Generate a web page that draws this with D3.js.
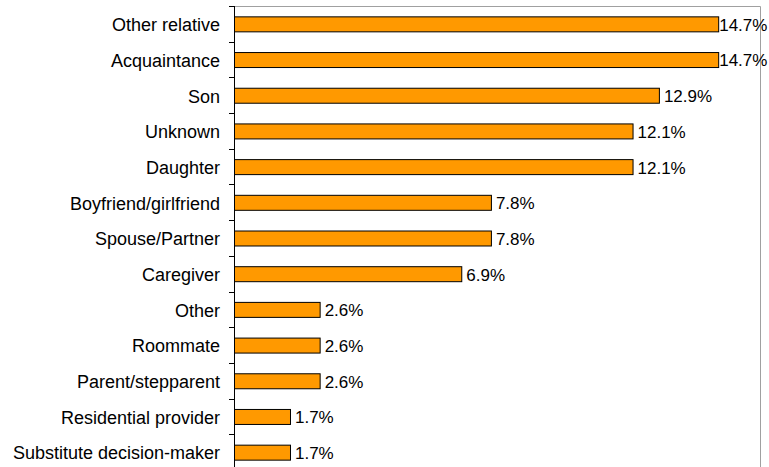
<!DOCTYPE html>
<html>
<head>
<meta charset="utf-8">
<script src="https://cdn.jsdelivr.net/npm/d3@7"></script>
<style>
  body { margin: 0; background: #fff; }
  text { font-family: "Liberation Sans", Arial, sans-serif; fill: #000; }
</style>
</head>
<body>
<div id="chart"></div>
<script>
var categories = ["Other relative", "Acquaintance", "Son", "Unknown", "Daughter",
  "Boyfriend/girlfriend", "Spouse/Partner", "Caregiver", "Other", "Roommate",
  "Parent/stepparent", "Residential provider", "Substitute decision-maker"];
var values = [14.7, 14.7, 12.9, 12.1, 12.1, 7.8, 7.8, 6.9, 2.6, 2.6, 2.6, 1.7, 1.7];

var svgWidth = 769;
var svgHeight = 467;

var margin = { top: 6, right: 8, bottom: -3, left: 234 };
var chartWidth = svgWidth - margin.left - margin.right;
var chartHeight = svgHeight - margin.top - margin.bottom;

var svg = d3.select("#chart").append("svg")
  .attr("width", svgWidth)
  .attr("height", svgHeight);

var chartGroup = svg.append("g")
  .attr("transform", `translate(${margin.left}, ${margin.top})`);

var xScale = d3.scaleLinear()
  .domain([0, 16])
  .range([0, chartWidth]);

var yScale = d3.scaleBand()
  .domain(categories)
  .range([0, chartHeight])
  .paddingInner(0.58)
  .paddingOuter(0.29);

var band = d3.scaleBand().domain(categories).range([0, chartHeight]);

// plot area border (top and right, gray)
chartGroup.append("path")
  .attr("d", `M0,0.5H${chartWidth - 0.5}V${chartHeight}`)
  .attr("fill", "none")
  .attr("stroke", "#a0a0a0")
  .attr("stroke-width", 1);

// bars
chartGroup.append("g").selectAll("rect")
  .data(values)
  .enter()
  .append("rect")
  .attr("x", 0.5)
  .attr("y", (d, i) => yScale(categories[i]) + 0.5)
  .attr("width", d => xScale(d))
  .attr("height", yScale.bandwidth())
  .attr("fill", "#FF9900")
  .attr("stroke", "#000")
  .attr("stroke-width", 1);

// value labels (pushed left to fit, but never onto the bar)
chartGroup.append("g").selectAll("text")
  .data(values)
  .enter()
  .append("text")
  .attr("y", (d, i) => yScale(categories[i]) + yScale.bandwidth() / 2 + 1)
  .attr("dy", "0.35em")
  .style("font-size", "17px")
  .text(d => d.toFixed(1) + "%")
  .attr("x", function (d) {
    var w = this.getComputedTextLength();
    return Math.max(xScale(d) + 1, Math.min(xScale(d) + 5, chartWidth + 4 - w));
  });

// y axis
var yAxis = chartGroup.append("g");
yAxis.append("line")
  .attr("x1", 0.5).attr("x2", 0.5)
  .attr("y1", 0).attr("y2", chartHeight)
  .attr("stroke", "#000");

var tickPos = categories.map(c => band(c)).concat([chartHeight]);
yAxis.selectAll(".tick")
  .data(tickPos)
  .enter()
  .append("line")
  .attr("x1", -5).attr("x2", 0.5)
  .attr("y1", d => Math.round(d) + 0.5)
  .attr("y2", d => Math.round(d) + 0.5)
  .attr("stroke", "#000");

yAxis.selectAll(".cat")
  .data(categories)
  .enter()
  .append("text")
  .attr("x", -14)
  .attr("y", c => yScale(c) + yScale.bandwidth() / 2 + 1)
  .attr("dy", "0.35em")
  .attr("text-anchor", "end")
  .style("font-size", "18px")
  .text(c => c);
</script>
</body>
</html>
